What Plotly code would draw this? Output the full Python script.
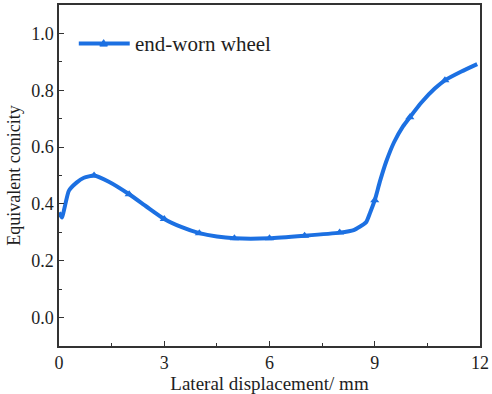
import plotly.graph_objects as go

# Equivalent conicity vs lateral displacement (end-worn wheel)
disp_mm = [0.0, 0.08, 0.28, 0.5, 0.71, 1.0, 1.42, 2.0, 2.5, 3.0, 3.5, 4.0, 4.5,
           5.0, 6.0, 7.0, 8.0, 8.4, 8.75, 8.87, 9.0, 9.15, 9.33, 9.55, 9.8,
           10.0, 10.33, 10.71, 11.0, 11.47, 11.92]
conicity = [0.37, 0.352, 0.446, 0.475, 0.492, 0.50, 0.478, 0.434, 0.39, 0.347,
            0.318, 0.297, 0.285, 0.279, 0.279, 0.288, 0.299, 0.308, 0.335, 0.37,
            0.413, 0.48, 0.55, 0.617, 0.672, 0.705, 0.757, 0.806, 0.835, 0.866,
            0.892]

# Sampled points shown with markers
marker_disp = [1, 2, 3, 4, 5, 6, 7, 8, 9, 10, 11]
marker_con = [0.50, 0.434, 0.347, 0.297, 0.279, 0.279, 0.288, 0.299, 0.413, 0.705, 0.835]

x_ticks = [0, 3, 6, 9, 12]
y_ticks = [0.0, 0.2, 0.4, 0.6, 0.8, 1.0]

series_name = "end-worn wheel"
blue = "rgb(28,112,226)"
font_family = "Liberation Serif, Times New Roman, serif"
text_color = "#1e1e1e"

fig = go.Figure()
fig.add_trace(go.Scatter(
    x=disp_mm, y=conicity, mode="lines",
    line=dict(color=blue, width=4, shape="spline", smoothing=0.5),
    showlegend=False, hoverinfo="skip"))
fig.add_trace(go.Scatter(
    x=marker_disp, y=marker_con, mode="markers", name=series_name,
    marker=dict(symbol="triangle-up", size=8, color=blue),
    showlegend=False))

axis_common = dict(
    showline=True, linecolor="#333333", linewidth=1.5, mirror=True,
    ticks="inside", ticklen=5, tickwidth=1, tickcolor="#333333",
    showgrid=False, zeroline=False,
    tickfont=dict(family=font_family, size=18, color=text_color),
)

fig.update_xaxes(
    range=[0, 12], tickvals=x_ticks, ticktext=[str(v) for v in x_ticks],
    minor=dict(ticks="inside", ticklen=3, tickcolor="#333333", dtick=1.5, tick0=0),
    title=dict(text="Lateral displacement/ mm", standoff=1,
               font=dict(family=font_family, size=19, color=text_color)),
    **axis_common)
fig.update_yaxes(
    range=[-0.1, 1.1], tickvals=y_ticks, ticktext=[f"{v:.1f}" for v in y_ticks],
    minor=dict(ticks="inside", ticklen=3, tickcolor="#333333", dtick=0.1, tick0=0),
    title=dict(text="Equivalent conicity", standoff=6,
               font=dict(family=font_family, size=18, color=text_color)),
    **axis_common)

# Legend key drawn in paper coordinates: line sample, triangle, label
leg_y = 0.887
leg_x0, leg_x1, leg_xm = 0.047, 0.168, 0.106
tri_w, tri_h = 0.009, 0.019
fig.add_shape(type="line", xref="paper", yref="paper",
              x0=leg_x0, x1=leg_x1, y0=leg_y, y1=leg_y,
              line=dict(color=blue, width=4))
fig.add_shape(type="path", xref="paper", yref="paper",
              path=(f"M {leg_xm - tri_w} {leg_y - tri_h * 0.4} "
                    f"L {leg_xm + tri_w} {leg_y - tri_h * 0.4} "
                    f"L {leg_xm} {leg_y + tri_h * 0.6} Z"),
              fillcolor=blue, line=dict(color=blue, width=1))
fig.add_annotation(xref="paper", yref="paper", x=0.175, y=leg_y,
                   xanchor="left", yanchor="middle", showarrow=False,
                   text=series_name,
                   font=dict(family=font_family, size=21, color=text_color))

fig.update_layout(
    width=492, height=394,
    margin=dict(l=59, r=10, t=3, b=48),
    paper_bgcolor="white", plot_bgcolor="white",
    showlegend=False,
)

fig.write_html("out.html")
